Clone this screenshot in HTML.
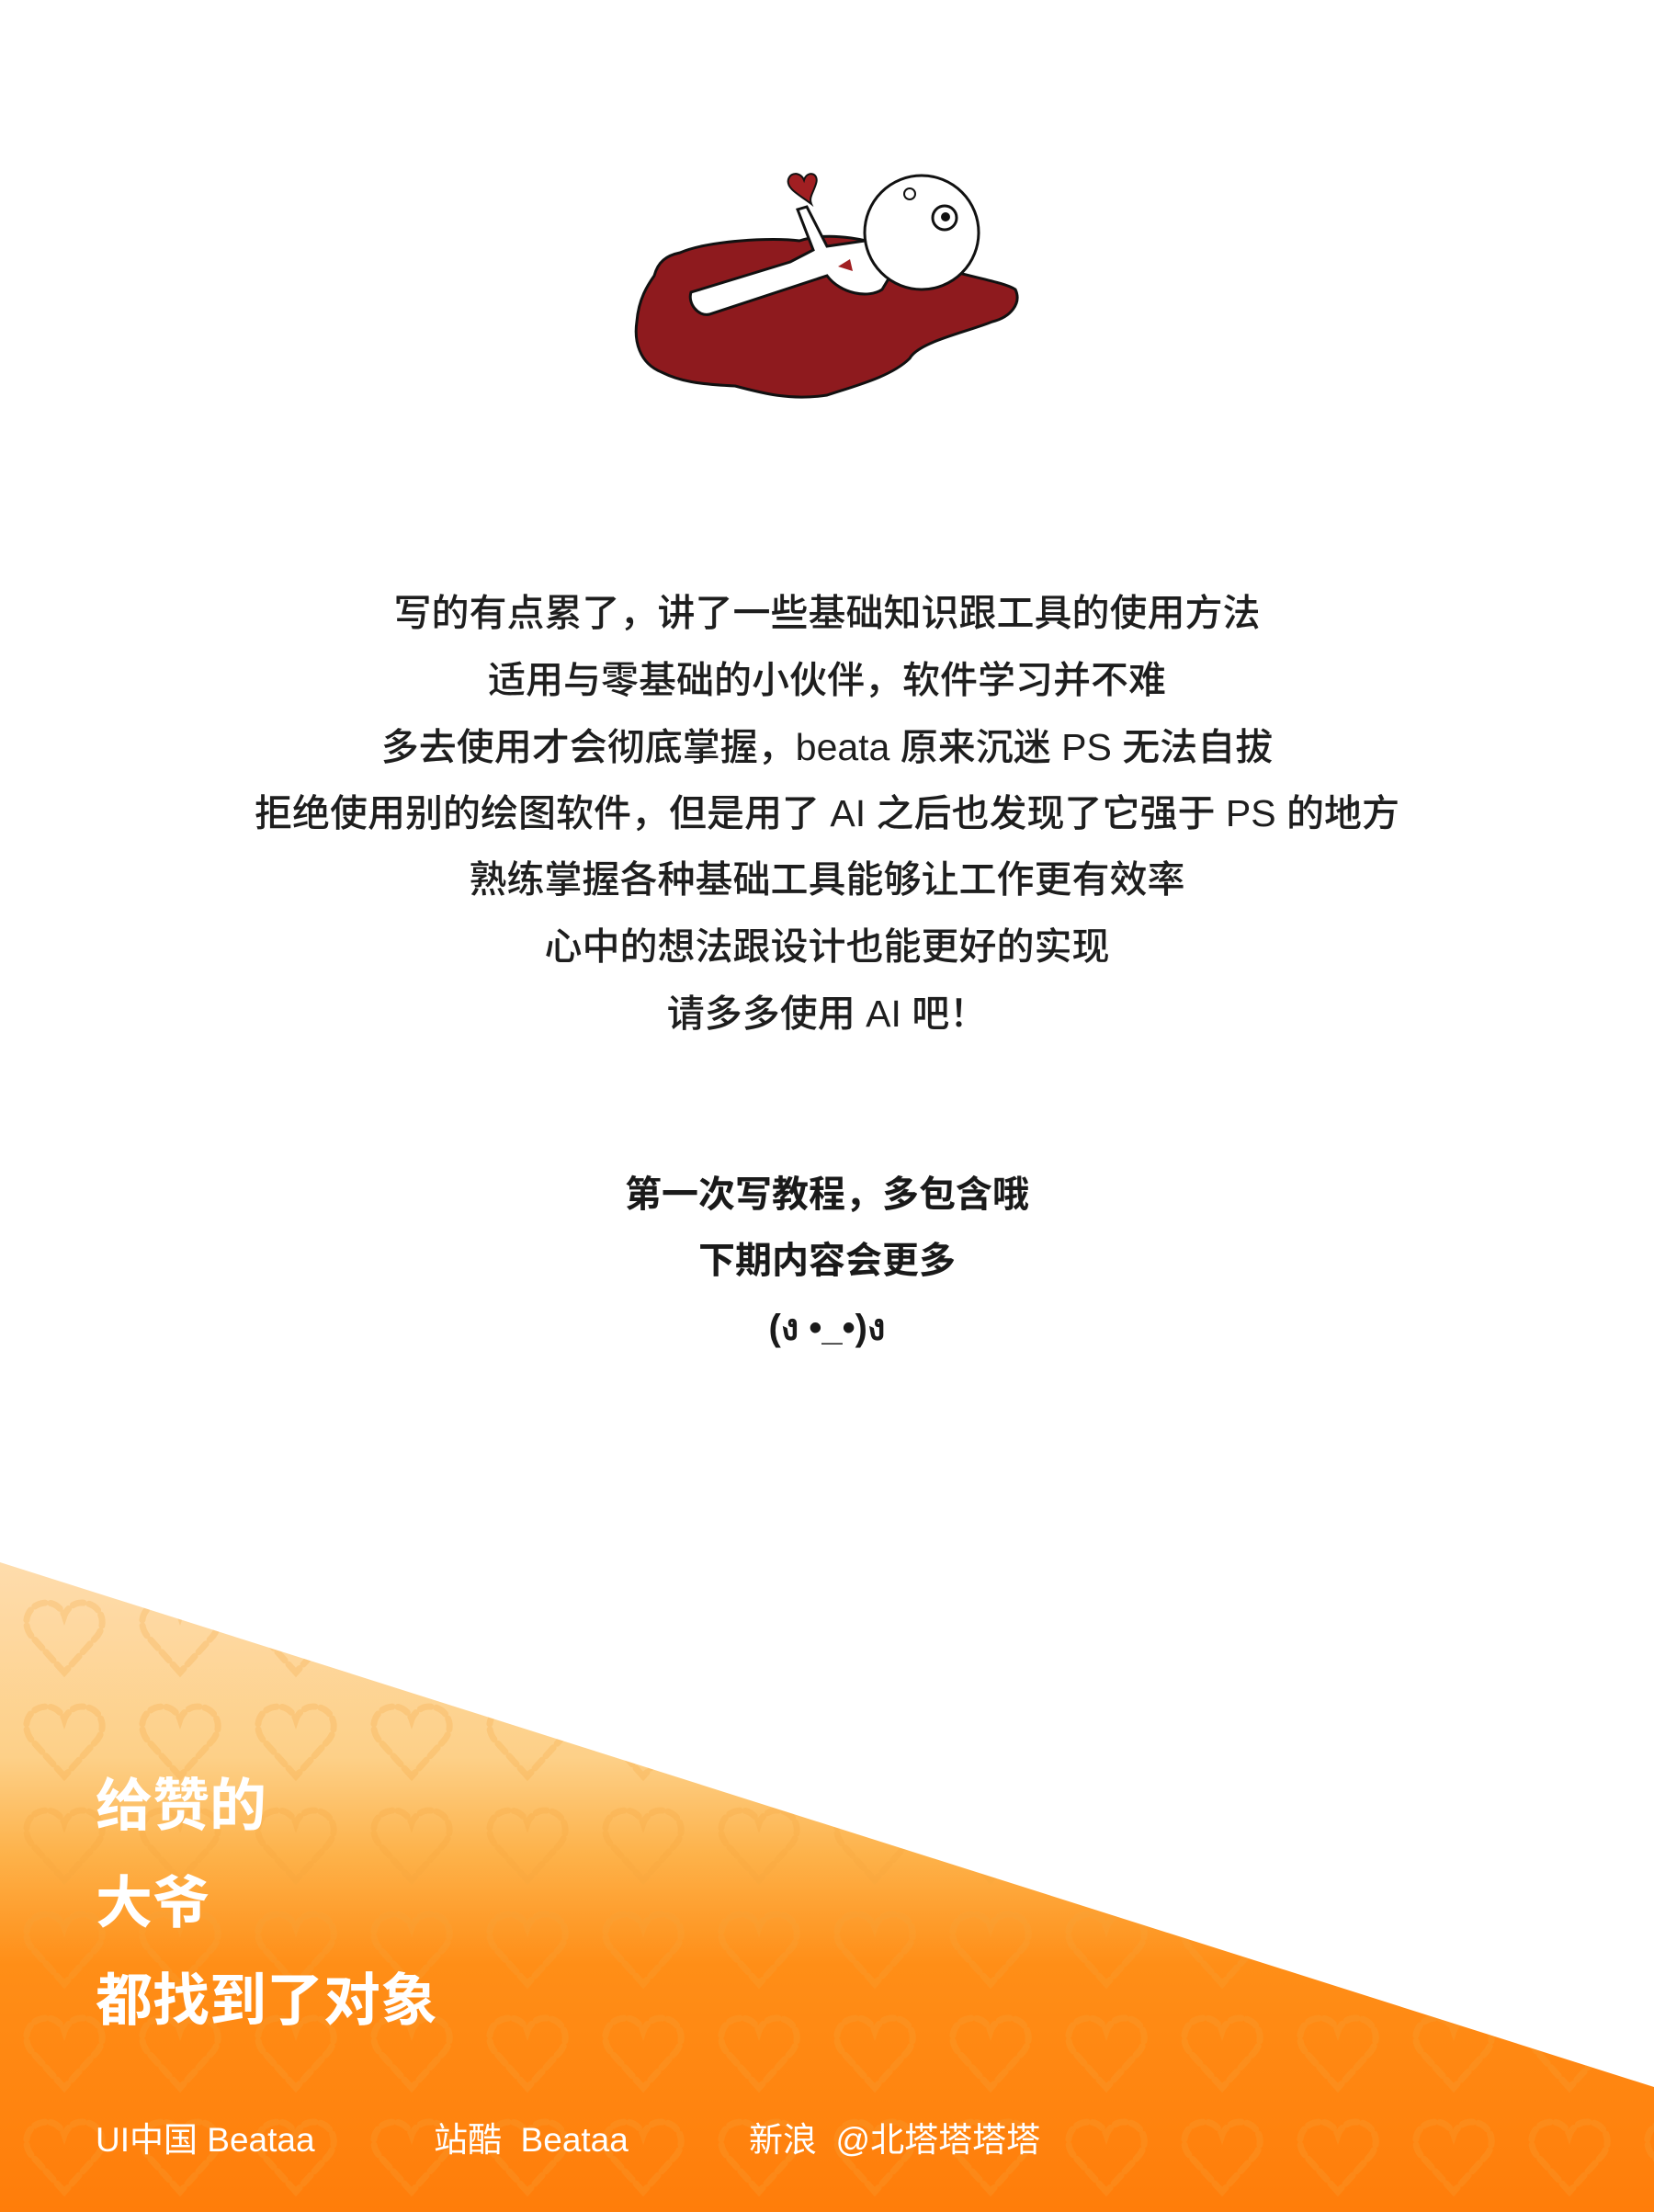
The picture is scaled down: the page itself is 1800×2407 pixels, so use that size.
<!DOCTYPE html>
<html><head><meta charset="utf-8"><style>
html,body{margin:0;padding:0}
body{width:1800px;height:2407px;position:relative;overflow:hidden;background:#fff;font-family:"Liberation Sans","Noto Sans CJK SC",sans-serif}
.l{position:absolute;left:0;width:1800px;text-align:center;color:#1e1e1e;font-size:41px;line-height:50px;font-weight:500}
.b{font-weight:bold;color:#1a1a1a;font-size:40px}
.w{position:absolute;left:104px;color:#fff;font-weight:bold;font-size:62px;line-height:72px}
.f{position:absolute;color:#fff;font-size:37px;line-height:44px;top:2307px}
</style></head><body>
<svg style="position:absolute;left:0;top:0" width="1800" height="500">
<path d="M740,275 C770,262 840,258 870,262 C900,252 950,258 990,280 C1040,300 1090,305 1105,315 C1112,330 1100,345 1080,350 C1050,362 1000,372 990,390 C970,410 930,420 900,430 C860,436 830,428 800,420 C760,418 740,415 720,405 C695,395 690,370 693,350 C695,325 705,310 712,300 C716,285 725,278 740,275 Z" fill="#8e1a1e" stroke="#111" stroke-width="3"/>
<path d="M752,318 C748,330 760,345 772,342 L900,300 C915,320 945,325 960,315 L975,290 L955,260 L900,268 L878,225 L868,228 L885,272 L860,285 Z" fill="#fff" stroke="#111" stroke-width="3"/>
<circle cx="1003" cy="253" r="62" fill="#fff" stroke="#111" stroke-width="3"/>
<circle cx="1028" cy="237" r="13" fill="#fff" stroke="#111" stroke-width="3"/><circle cx="1029" cy="236" r="5" fill="#111"/>
<circle cx="990" cy="211" r="6" fill="#fff" stroke="#111" stroke-width="2"/>
<path d="M883,222 C870,212 855,205 858,195 C861,186 872,188 875,196 C878,185 892,188 888,200 C885,210 880,215 883,222 Z" fill="#a11f22" stroke="#111" stroke-width="2"/>
<path d="M912,290 L925,282 L928,295 Z" fill="#a11f22"/>
</svg>
<div class="l" style="top:642px">写的有点累了，讲了一些基础知识跟工具的使用方法</div>
<div class="l" style="top:715px">适用与零基础的小伙伴，软件学习并不难</div>
<div class="l" style="top:788px">多去使用才会彻底掌握，beata 原来沉迷 PS 无法自拔</div>
<div class="l" style="top:860px">拒绝使用别的绘图软件，但是用了 AI 之后也发现了它强于 PS 的地方</div>
<div class="l" style="top:932px">熟练掌握各种基础工具能够让工作更有效率</div>
<div class="l" style="top:1005px">心中的想法跟设计也能更好的实现</div>
<div class="l" style="top:1078px">请多多使用 AI 吧！</div>
<div class="l b" style="top:1275px">第一次写教程，多包含哦</div>
<div class="l b" style="top:1347px">下期内容会更多</div>
<div class="l b" style="top:1420px">(ง •_•)ง</div>
<svg style="position:absolute;left:0;top:0" width="1800" height="2407">
<defs>
<linearGradient id="g" x1="0" y1="1700" x2="0" y2="2407" gradientUnits="userSpaceOnUse">
<stop offset="0" stop-color="#fedcac"/><stop offset="0.3" stop-color="#fdd088"/><stop offset="0.45" stop-color="#fdb24a"/><stop offset="0.62" stop-color="#ff8e17"/><stop offset="1" stop-color="#ff7d0a"/></linearGradient>
<pattern id="h" x="24" y="1740" width="126" height="113" patternUnits="userSpaceOnUse">
<path d="M46,80 L10,40 C-2,24 8,4 27,4 C37,4 44,12 46,18 C48,12 55,4 65,4 C84,4 94,24 82,40 Z" fill="none" stroke="#f5a33a" stroke-opacity="0.25" stroke-width="7" stroke-dasharray="12 6" stroke-linecap="round"/>
</pattern></defs>
<polygon points="0,1700 1800,2271 1800,2407 0,2407" fill="url(#g)"/>
<polygon points="0,1700 1800,2271 1800,2407 0,2407" fill="url(#h)"/>
</svg>
<div class="w" style="top:1930px">给赞的</div>
<div class="w" style="top:2036px">大爷</div>
<div class="w" style="top:2142px">都找到了对象</div>
<div class="f" style="left:104px">UI中国 Beataa</div>
<div class="f" style="left:472px">站酷&nbsp;&nbsp;Beataa</div>
<div class="f" style="left:815px">新浪&nbsp;&nbsp;@北塔塔塔塔</div>
</body></html>
